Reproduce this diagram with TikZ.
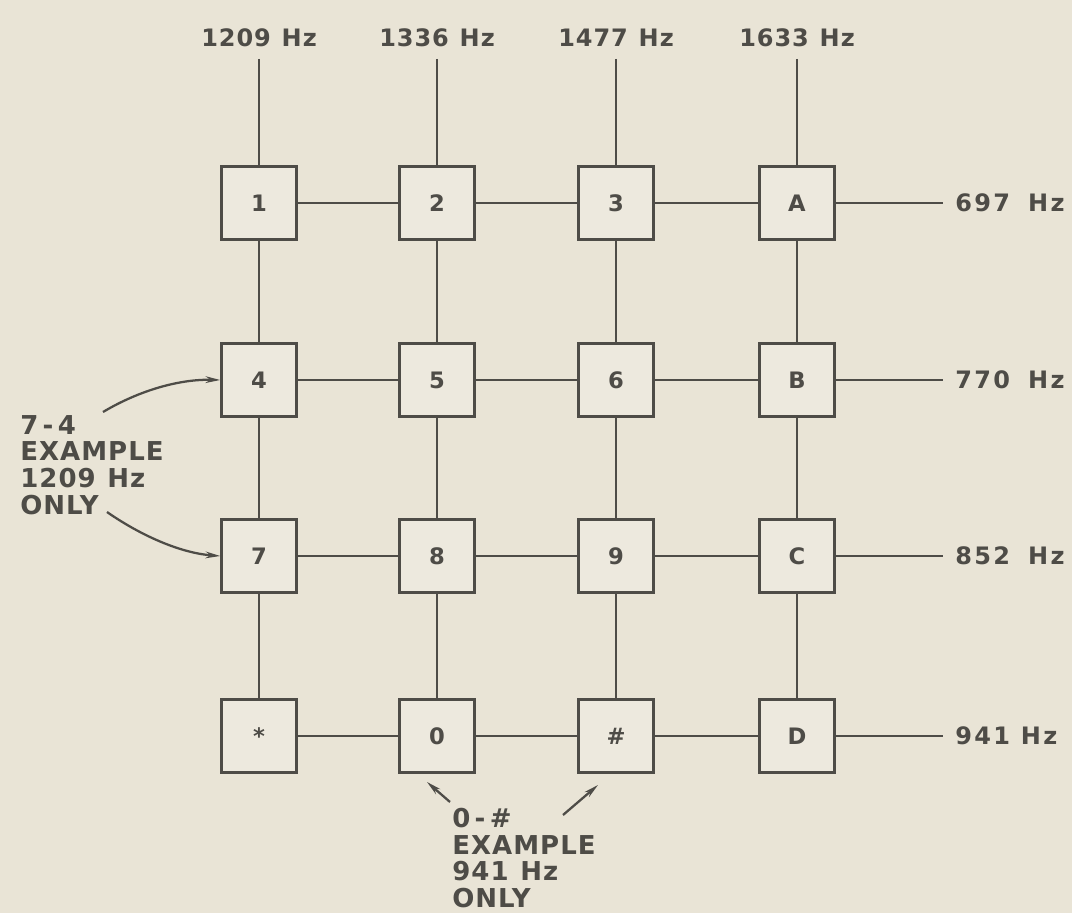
\documentclass[tikz,border=0pt]{standalone}
\usepackage{fontspec}
\setmainfont{DejaVu Sans}[LetterSpace=4]
\usetikzlibrary{arrows.meta}
\definecolor{paper}{RGB}{233,228,214}
\definecolor{ink}{RGB}{78,76,71}
\definecolor{boxfill}{RGB}{237,233,222}
\newcommand{\Hzgap}{\hspace{0.45em}Hz}
\newcommand{\Hzwide}{\hspace{0.75em}Hz}
\tikzset{
  key/.style={draw=ink, fill=boxfill, line width=2.1pt, minimum width=56pt, minimum height=55pt, inner sep=0pt, text=ink, font=\bfseries\fontsize{17}{18}\selectfont},
  wire/.style={draw=ink, line width=2.2pt},
  freq/.style={text=ink, font=\bfseries\fontsize{18}{19}\selectfont, inner sep=0pt},
  rowfreq/.style={text=ink, font=\bfseries\fontsize{18}{19}\selectfont\addfontfeature{LetterSpace=10}, inner sep=0pt, anchor=west},
  note/.style={text=ink, font=\bfseries\fontsize{19.5}{20}\selectfont, align=left, inner sep=0pt},
  pointer/.style={draw=ink, line width=1.7pt, -{Stealth[length=11pt,width=5pt]}}
}
\begin{document}
\begin{tikzpicture}[x=0.75pt,y=-0.75pt]
\fill[paper] (0,0) rectangle (1072,913);
\useasboundingbox (0,0) rectangle (1072,913);

% keys
\node[key] (k11) at (259,203) {1};
\node[key] (k12) at (437,203) {2};
\node[key] (k13) at (616,203) {3};
\node[key] (k14) at (797,203) {A};
\node[key] (k21) at (259,380) {4};
\node[key] (k22) at (437,380) {5};
\node[key] (k23) at (616,380) {6};
\node[key] (k24) at (797,380) {B};
\node[key] (k31) at (259,556) {7};
\node[key] (k32) at (437,556) {8};
\node[key] (k33) at (616,556) {9};
\node[key] (k34) at (797,556) {C};
\node[key] (k41) at (259,736) {*};
\node[key] (k42) at (437,736) {0};
\node[key] (k43) at (616,736) {\#};
\node[key] (k44) at (797,736) {D};

% column labels
\node[freq] (c1) at (259,38) {1209\Hzgap};
\node[freq] (c2) at (437,38) {1336\Hzgap};
\node[freq] (c3) at (616,38) {1477\Hzgap};
\node[freq] (c4) at (797,38) {1633\Hzgap};
\coordinate (t1) at (259,59);
\coordinate (t2) at (437,59);
\coordinate (t3) at (616,59);
\coordinate (t4) at (797,59);

% row labels
\coordinate (r1) at (943,203);
\coordinate (r2) at (943,380);
\coordinate (r3) at (943,556);
\coordinate (r4) at (943,736);
\node[rowfreq] (l1) at (955,203) {697\Hzwide};
\node[rowfreq] (l2) at (955,380) {770\Hzwide};
\node[rowfreq] (l3) at (955,556) {852\Hzwide};
\node[rowfreq] (l4) at (955,736) {941\Hzgap};

% vertical wires
\foreach \c in {1,2,3,4}{
  \draw[wire] (t\c) -- (k1\c);
  \draw[wire] (k1\c) -- (k2\c);
  \draw[wire] (k2\c) -- (k3\c);
  \draw[wire] (k3\c) -- (k4\c);
}
% horizontal wires
\foreach \r in {1,2,3,4}{
  \draw[wire] (k\r1) -- (k\r2);
  \draw[wire] (k\r2) -- (k\r3);
  \draw[wire] (k\r3) -- (k\r4);
  \draw[wire] (k\r4) -- (r\r);
}

% left note
\node[note, anchor=north west] (n1) at (20,415) {7\,-\,4\\EXAMPLE\\1209\Hzgap\\ONLY};
\coordinate (a1) at (103,412);
\coordinate (a2) at (107,512);
\draw[pointer] (a1) .. controls (140,390) and (180,379) .. (k21.west);
\draw[pointer] (a2) .. controls (140,535) and (180,553) .. (k31.west);

% bottom note
\node[note, anchor=north west] (n2) at (452,808) {0\,-\,\#\\EXAMPLE\\941\Hzgap\\ONLY};
\coordinate (b1) at (450,802);
\coordinate (b2) at (563,815);
\coordinate (b1e) at (427,782);
\coordinate (b2e) at (598,785);
\draw[pointer] (b1) -- (b1e);
\draw[pointer] (b2) -- (b2e);
\end{tikzpicture}
\end{document}
